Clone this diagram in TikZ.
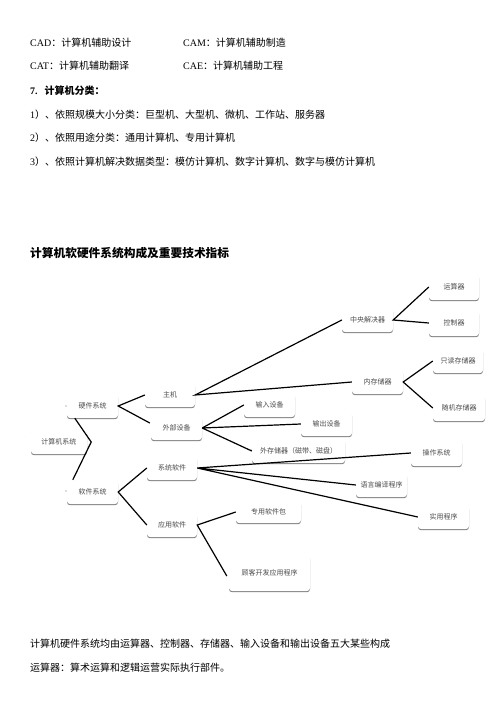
\documentclass[tikz,border=0pt]{standalone}
\usepackage{fontspec}
\setmainfont{Liberation Serif}
\newfontfamily\cjk{Noto Sans CJK SC}
\usetikzlibrary{calc, shadows}

\tikzset{
  line/.style={anchor=west, inner sep=0pt, font=\fontsize{10}{12}\selectfont},
  box/.style={fill=white, rounded corners=3pt, minimum width=51pt, minimum height=24pt,
    inner sep=1pt, text=black!70, font=\cjk\fontsize{7}{8}\selectfont,
    drop shadow={shadow xshift=0pt, shadow yshift=-1.2pt, fill=black!50, opacity=1}},
  link/.style={line width=1.2pt, black}
}

\begin{document}
\begin{tikzpicture}[x=1pt,y=-1pt]
\useasboundingbox (0,0) rectangle (500,707);

% text above
\node[line] at (30,43) {CAD{\cjk：计算机辅助设计}};
\node[line] at (183,43) {CAM{\cjk：计算机辅助制造}};
\node[line] at (30,66) {CAT{\cjk：计算机辅助翻译}};
\node[line] at (183,66) {CAE{\cjk：计算机辅助工程}};
\node[line] at (30,91) {\bfseries 7.\hspace{7pt}{\cjk 计算机分类：}};
\node[line] at (30,115) {1{\cjk）、依照规模大小分类：巨型机、大型机、微机、工作站、服务器}};
\node[line] at (30,138) {2{\cjk）、依照用途分类：通用计算机、专用计算机}};
\node[line] at (30,162) {3{\cjk）、依照计算机解决数据类型：模仿计算机、数字计算机、数字与模仿计算机}};
\node[line, font=\cjk\bfseries\fontsize{11.7}{14}\selectfont] at (30,253) {计算机软硬件系统构成及重要技术指标};

% tree
\begin{scope}
\node[box, minimum width=56pt] (sys) at (59,442) {计算机系统};
\node[box] (hw) at (92.5,406) {硬件系统};
\node[box] (sw) at (92.5,492) {软件系统};

\node[box, minimum width=50pt] (host) at (170,395) {主机};
\node[box] (ext) at (176.5,428) {外部设备};
\node[box, minimum width=50pt] (sysw) at (172,468) {系统软件};
\node[box, minimum width=50pt] (app) at (172,525) {应用软件};

\node[box] (cpu) at (367.5,320) {中央解决器};
\node[box] (mem) at (377.5,382) {内存储器};
\node[box, minimum width=50pt, minimum height=26pt] (alu) at (454,287) {运算器};
\node[box, minimum width=50pt, minimum height=26pt] (ctl) at (454,323) {控制器};
\node[box, minimum width=50pt] (rom) at (458,361) {只读存储器};
\node[box, minimum width=52pt, minimum height=26pt] (ram) at (459,408) {随机存储器};

\node[box] (inp) at (269.5,405) {输入设备};
\node[box] (outp) at (326.5,424) {输出设备};
\node[box, minimum width=93pt] (disk) at (298.5,451) {外存储器（磁带、磁盘）};

\node[box, minimum height=26pt] (os) at (436.5,453) {操作系统};
\node[box] (comp) at (381.5,485) {语言编译程序};
\node[box] (util) at (443.5,517) {实用程序};

\node[box, minimum width=65pt, minimum height=22pt] (pkg) at (268.5,512) {专用软件包};
\node[box, minimum width=81pt, minimum height=36pt] (cust) at (269.5,573) {顾客开发应用程序};

\fill[black!60] (66,406) circle (0.6) (66,491) circle (0.6) (251,450) circle (0.6);

\draw[link] ([xshift=8pt]hw.south west) -- ([xshift=4pt]sys.east) -- ([xshift=6pt]sw.north west);
\draw[link] (host.west) -- (hw.east) -- ($(ext.west)+(-1,-5)$);
\draw[link] (sysw.west) -- (sw.east) -- (app.west);
\draw[link] (cpu.west) -- (host.east) -- (mem.west);
\draw[link] (alu.west) -- (cpu.east) -- (ctl.west);
\draw[link] (rom.west) -- (mem.east) -- (ram.west);
\draw[link] (ext.east) -- (inp.west) (ext.east) -- (outp.west) (ext.east) -- (disk.west);
\draw[link] (sysw.east) -- (os.west) (sysw.east) -- (comp.west) (sysw.east) -- (util.west);
\draw[link] (pkg.west) -- (app.east) -- ($(cust.west)+(-2,3)$);
\end{scope}

% text below
\node[line, font=\cjk\fontsize{10}{12}\selectfont] at (30,644) {计算机硬件系统均由运算器、控制器、存储器、输入设备和输出设备五大某些构成};
\node[line, font=\cjk\fontsize{10}{12}\selectfont] at (30,668) {运算器：算术运算和逻辑运营实际执行部件。};

\end{tikzpicture}
\end{document}
